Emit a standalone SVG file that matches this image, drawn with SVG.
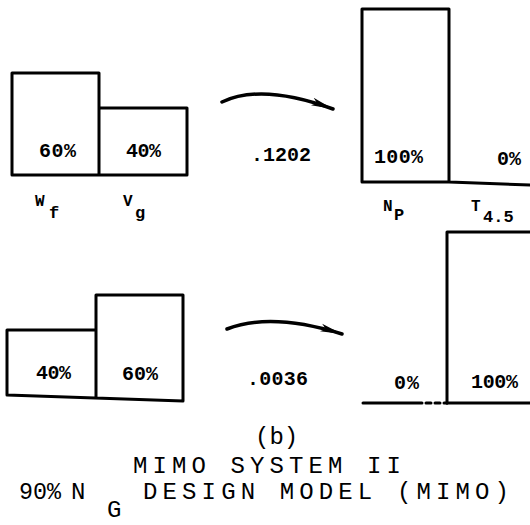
<svg xmlns="http://www.w3.org/2000/svg" width="530" height="525" viewBox="0 0 530 525">
<style>
.bar{fill:none;stroke:#000;stroke-width:3;stroke-linejoin:round;stroke-linecap:round}
.lbl{font-family:"Liberation Mono","DejaVu Sans Mono",monospace;font-weight:bold;font-size:20px;fill:#000}
.var{font-family:"Liberation Mono","DejaVu Sans Mono",monospace;font-weight:bold;fill:#000}
.cap{font-family:"Liberation Mono","DejaVu Sans Mono",monospace;font-size:24px;fill:#000}
.arr{fill:none;stroke:#000;stroke-width:3.5;stroke-linecap:round}
</style>
<defs>
<marker id="ah" markerWidth="24" markerHeight="10" refX="22" refY="5" orient="auto" markerUnits="userSpaceOnUse">
<path d="M0,1 L22,5 L0,9 L5,5 Z" fill="#000"/>
</marker>
</defs>
<rect width="530" height="525" fill="#fff"/>

<g id="top-inputs">
<path class="bar" d="M12,175 L12,73 L99,73 L99,175 M99,108 L187,108 L187,175 L12,175"/>
<text class="lbl" x="39" y="157" textLength="37">60%</text>
<text class="lbl" x="126" y="157" textLength="35">40%</text>
<text class="var" x="35" y="206" font-size="16">W</text>
<text class="var" x="49" y="218" font-size="17">f</text>
<text class="var" x="123" y="206" font-size="16">V</text>
<text class="var" x="135" y="218" font-size="17">g</text>
</g>

<g id="top-gain">
<text class="lbl" x="251" y="161" textLength="60">.1202</text>
</g>

<g id="top-outputs">
<path class="bar" d="M362,182 L362,9 L449,9 L449,182 M362,182 L449,182 L530,185"/>
<text class="lbl" x="374" y="163" textLength="49">100%</text>
<text class="lbl" x="497" y="165" textLength="24">0%</text>
<text class="var" x="383" y="211" font-size="16">N</text>
<text class="var" x="394" y="220" font-size="17">P</text>
<text class="var" x="471" y="211" font-size="16">T</text>
<text class="var" x="483" y="222" font-size="17">4.5</text>
</g>

<g id="bottom-inputs">
<path class="bar" d="M7,395 L7,330 L96,330 M96,398 L96,295 L183,295 L183,401 L7,395"/>
<text class="lbl" x="36" y="379" textLength="35">40%</text>
<text class="lbl" x="122" y="380" textLength="36">60%</text>
</g>

<g id="bottom-gain">
<text class="lbl" x="247" y="385" textLength="61">.0036</text>
</g>

<g id="bottom-outputs">
<path class="bar" d="M447,403 L447,232 L530,232 M363,403 L422,403"/>
<path class="bar" d="M426,403 L447,403" stroke-dasharray="5,4"/>
<path class="bar" d="M447,403 L530,403"/>
<text class="lbl" x="394" y="389" textLength="25">0%</text>
<text class="lbl" x="471" y="388" textLength="47">100%</text>
</g>

<g id="connectors">
<path class="arr" d="M222,102 Q262,83 333,109" marker-end="url(#ah)"/>
<path class="arr" d="M227,329 Q271,312 342,334" marker-end="url(#ah)"/>
</g>

<g id="caption">
<text class="cap" x="255" y="444" font-size="27">(b)</text>
<text class="cap" x="133" y="473" textLength="268" lengthAdjust="spacing">MIMO SYSTEM II</text>
<text class="cap" x="19" y="499" textLength="42" lengthAdjust="spacingAndGlyphs">90%</text>
<text class="cap" x="71" y="499">N</text>
<text class="cap" x="107" y="517" font-size="23">G</text>
<text class="cap" x="143" y="499" textLength="366" lengthAdjust="spacing">DESIGN MODEL (MIMO)</text>
</g>
</svg>
